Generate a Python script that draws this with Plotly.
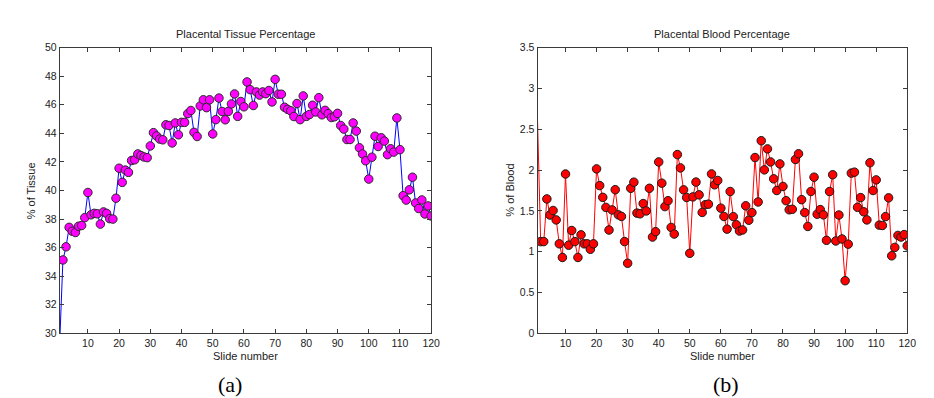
import plotly.graph_objects as go

slides = list(range(1, 121))

tissue = [29.5, 35.14, 36.06, 37.42, 37.15, 37.06, 37.5, 37.55, 38.1, 39.86,
          38.3, 38.4, 38.37, 37.65, 38.5, 38.4, 38.03, 38.0, 39.46, 41.56,
          40.57, 41.43, 41.27, 42.1, 42.15, 42.56, 42.45, 42.35, 42.3, 43.12,
          44.05, 43.82, 43.6, 43.55, 44.6, 44.55, 43.33, 44.73, 43.9, 44.77,
          44.77, 45.38, 45.6, 44.07, 43.78, 45.92, 46.35, 45.8, 46.35, 43.96,
          44.96, 46.47, 45.53, 44.95, 45.54, 46.06, 46.76, 45.19, 46.23, 45.86,
          47.6, 47.06, 45.95, 46.9, 46.68, 46.9, 46.78, 47.0, 46.2, 47.78,
          46.74, 46.74, 45.83, 45.68, 45.58, 45.18, 46.09, 44.96, 46.62, 45.19,
          45.32, 45.97, 45.5, 46.5, 45.3, 45.61, 45.38, 45.11, 45.16, 45.4,
          44.55, 44.3, 43.57, 43.57, 44.73, 44.16, 42.99, 42.56, 42.08, 40.8,
          42.33, 43.8, 43.08, 43.69, 43.46, 42.51, 42.92, 42.69, 45.08, 42.86,
          39.64, 39.33, 40.05, 40.93, 39.13, 38.74, 39.34, 38.36, 38.92, 38.22]

blood = [2.6, 1.124, 1.124, 1.647, 1.45, 1.505, 1.39, 1.097, 0.93, 1.952,
         1.08, 1.26, 1.124, 0.93, 1.207, 1.097, 1.097, 1.03, 1.097, 2.015,
         1.81, 1.666, 1.543, 1.266, 1.512, 1.76, 1.452, 1.433, 1.124, 0.859,
         1.777, 1.852, 1.473, 1.465, 1.59, 1.5, 1.777, 1.18, 1.245, 2.1,
         1.84, 1.553, 1.625, 1.298, 1.217, 2.19, 2.027, 1.758, 1.665, 0.981,
         1.672, 1.853, 1.697, 1.482, 1.576, 1.583, 1.953, 1.82, 1.873, 1.534,
         1.432, 1.277, 1.738, 1.43, 1.33, 1.254, 1.267, 1.563, 1.386, 1.48,
         2.154, 1.61, 2.36, 2.003, 2.26, 2.1, 1.893, 1.75, 2.076, 1.8,
         1.625, 1.514, 1.52, 2.13, 2.2, 1.638, 1.48, 1.31, 1.738, 1.913,
         1.46, 1.516, 1.452, 1.14, 1.738, 1.943, 1.132, 1.45, 1.156, 0.645,
         1.093, 1.963, 1.975, 1.544, 1.663, 1.489, 1.39, 2.09, 1.75, 1.88,
         1.326, 1.322, 1.43, 1.66, 0.95, 1.053, 1.2, 1.18, 1.21, 1.072]

tissue_ticks = list(range(30, 51, 2))
blood_ticks = [0, 0.5, 1, 1.5, 2, 2.5, 3, 3.5]
blood_tick_text = ["0", "0.5", "1", "1.5", "2", "2.5", "3", "3.5"]
x_ticks = list(range(10, 121, 10))

FONT = "Liberation Sans, Arial, sans-serif"
AX = "#3a3a3a"
TXT = "#222222"

fig = go.Figure()

# Tissue (a)
fig.add_trace(go.Scatter(x=slides, y=tissue, mode="lines",
                         line=dict(color="#0000ff", width=1),
                         xaxis="x", yaxis="y", showlegend=False, hoverinfo="skip"))
fig.add_trace(go.Scatter(x=slides[1:], y=tissue[1:], mode="markers",
                         marker=dict(color="#ff00ff", size=8.5,
                                     line=dict(color="#2a2a2a", width=1)),
                         xaxis="x", yaxis="y", showlegend=False))

# Blood (b)
fig.add_trace(go.Scatter(x=slides, y=blood, mode="lines",
                         line=dict(color="#ff0000", width=1),
                         xaxis="x2", yaxis="y2", showlegend=False, hoverinfo="skip"))
fig.add_trace(go.Scatter(x=slides[1:], y=blood[1:], mode="markers",
                         marker=dict(color="#ff0000", size=8.5,
                                     line=dict(color="#1a1a1a", width=1)),
                         xaxis="x2", yaxis="y2", showlegend=False))

ydom = [1 - 329.3 / 398, 1 - 34.7 / 398]
xdom1 = [52.3 / 934, 427.3 / 934]
xdom2 = [534.7 / 934, 908.0 / 934]

common = dict(showgrid=False, zeroline=False, showline=True, linecolor=AX,
              linewidth=1, mirror="ticks", ticks="inside", ticklen=4,
              tickcolor=AX, tickwidth=1,
              tickfont=dict(family=FONT, size=10.5, color=TXT))

fig.update_layout(
    width=934, height=398,
    margin=dict(l=0, r=0, t=0, b=0),
    paper_bgcolor="white", plot_bgcolor="white",
    xaxis=dict(domain=xdom1, anchor="y", range=[1, 120], tickvals=x_ticks, **common),
    yaxis=dict(domain=ydom, anchor="x", range=[30, 50], tickvals=tissue_ticks, **common),
    xaxis2=dict(domain=xdom2, anchor="y2", range=[1, 120], tickvals=x_ticks, **common),
    yaxis2=dict(domain=ydom, anchor="x2", range=[0, 3.5], tickvals=blood_ticks,
                ticktext=blood_tick_text, **common),
)

ann_font = dict(family=FONT, size=11, color=TXT)
annotations = [
    dict(text="Placental Tissue Percentage", x=240 / 934, y=1 - 21 / 398),
    dict(text="Placental Blood Percentage", x=721.4 / 934, y=1 - 21 / 398),
    dict(text="Slide number", x=240 / 934, y=1 - 353 / 398),
    dict(text="Slide number", x=721.4 / 934, y=1 - 353 / 398),
    dict(text="% of Tissue", x=23 / 934, y=1 - 182 / 398, textangle=-90),
    dict(text="% of Blood", x=506 / 934, y=1 - 182 / 398, textangle=-90),
]
for a in annotations:
    fig.add_annotation(xref="paper", yref="paper", showarrow=False,
                       xanchor="center", yanchor="middle", font=ann_font, **a)

for label, xpos in [("(a)", 224 / 934), ("(b)", 725 / 934)]:
    fig.add_annotation(text=label, xref="paper", yref="paper", x=xpos, y=1 - 382 / 398,
                       showarrow=False, xanchor="center", yanchor="middle",
                       font=dict(family="Liberation Serif, Times New Roman, serif",
                                 size=22, color="black"))

fig.write_html("out.html")
